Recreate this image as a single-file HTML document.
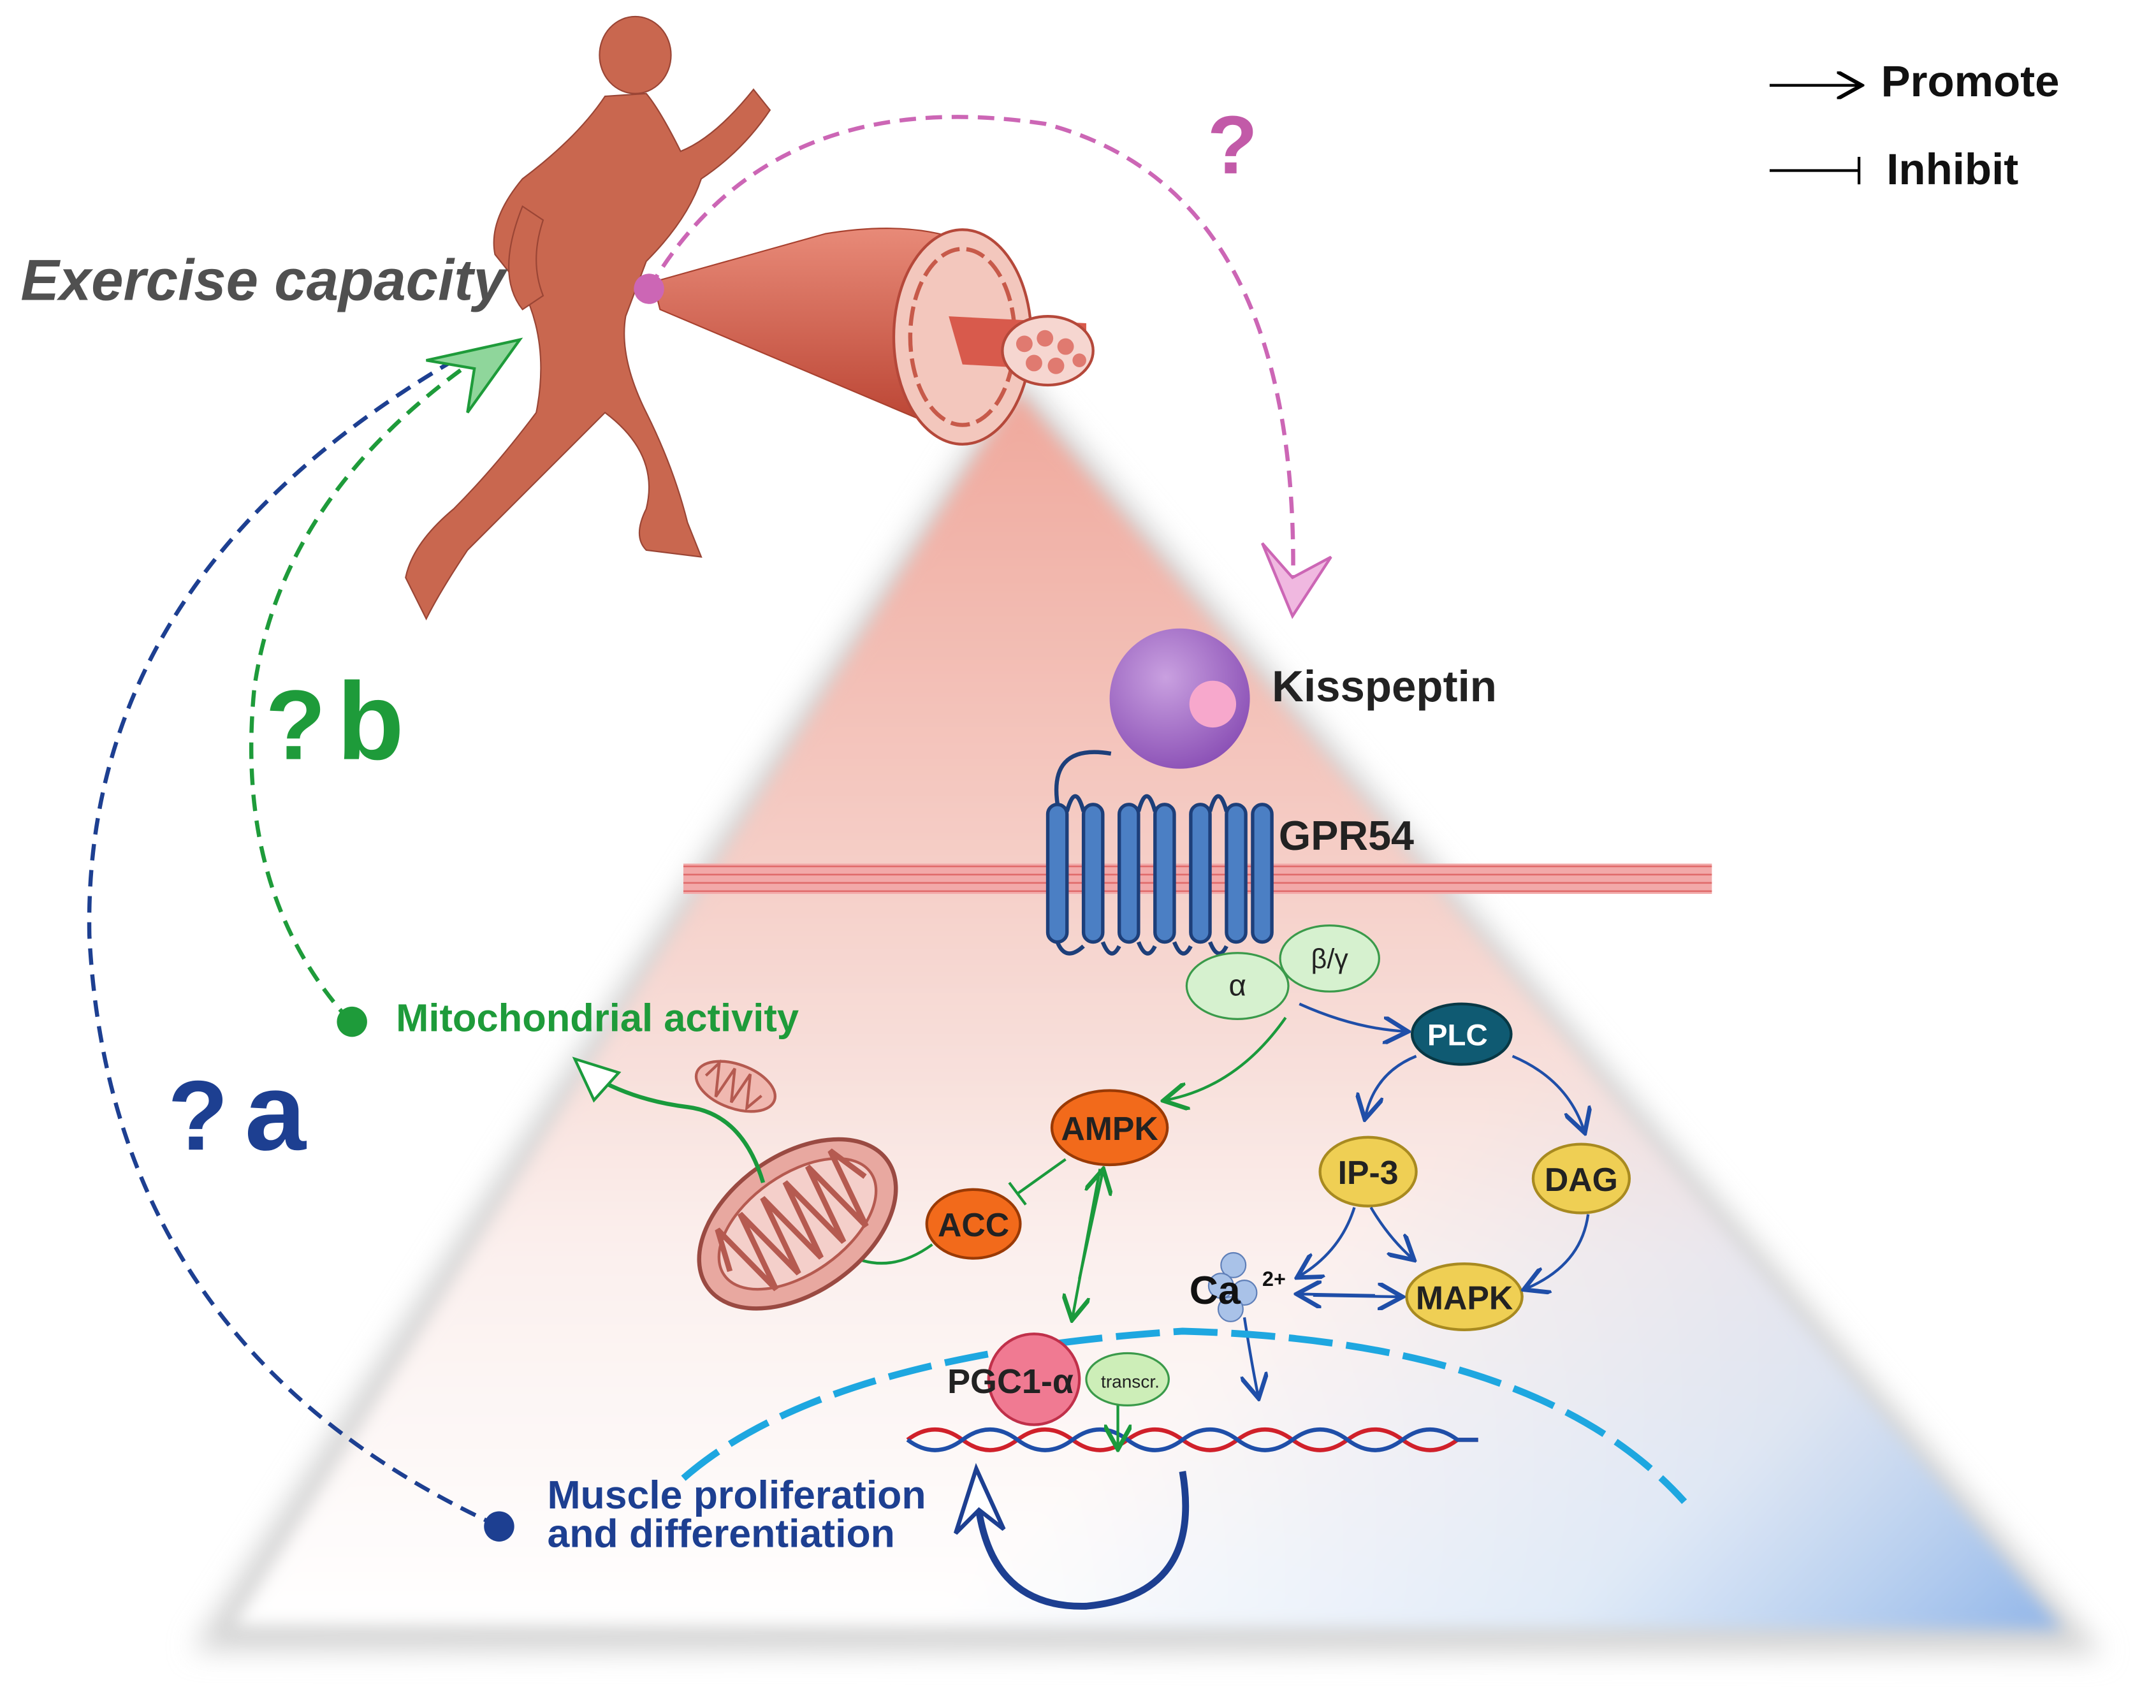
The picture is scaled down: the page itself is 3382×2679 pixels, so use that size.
<!DOCTYPE html>
<html><head><meta charset="utf-8">
<style>
html,body{margin:0;padding:0;background:#fff;}
svg{display:block;}
text{font-family:"Liberation Sans",sans-serif;font-weight:bold;}
</style></head>
<body>
<svg width="3382" height="2679" viewBox="0 0 1568 1242" xmlns="http://www.w3.org/2000/svg">
<defs>
<linearGradient id="tri" x1="0" y1="0" x2="0" y2="1">
<stop offset="0" stop-color="#f0a89c"/>
<stop offset="0.4" stop-color="#f5d0c9"/>
<stop offset="0.7" stop-color="#fbf0ee"/>
<stop offset="1" stop-color="#ffffff"/>
</linearGradient>
<linearGradient id="blu" x1="0.6" y1="0.7" x2="1" y2="1">
<stop offset="0" stop-color="#a8c6ec" stop-opacity="0"/>
<stop offset="0.55" stop-color="#a8c6ec" stop-opacity="0.35"/>
<stop offset="1" stop-color="#8fb4e8" stop-opacity="1"/>
</linearGradient>
<filter id="blur"><feGaussianBlur stdDeviation="10"/></filter>
<filter id="blur2"><feGaussianBlur stdDeviation="6"/></filter>
<radialGradient id="kis" cx="0.4" cy="0.35" r="0.7"><stop offset="0" stop-color="#c9a0e0"/><stop offset="1" stop-color="#8a4fb5"/></radialGradient>
<linearGradient id="mus" x1="0" y1="0" x2="0" y2="1"><stop offset="0" stop-color="#e88a78"/><stop offset="1" stop-color="#b8402f"/></linearGradient>
<marker id="ab" markerWidth="10" markerHeight="10" refX="8" refY="5" orient="auto"><path d="M0,0 L9,5 L0,10" fill="none" stroke="#1f4ea8" stroke-width="1.6"/></marker>
<marker id="ag" markerWidth="10" markerHeight="10" refX="8" refY="5" orient="auto"><path d="M0,0 L9,5 L0,10" fill="none" stroke="#1a9a3c" stroke-width="1.6"/></marker>
<marker id="ak" markerWidth="10" markerHeight="10" refX="8" refY="5" orient="auto"><path d="M0,0 L9,5 L0,10" fill="none" stroke="#000" stroke-width="1.4"/></marker>
</defs>

<!-- triangle -->
<polygon points="740,268 140,1200 1530,1203" fill="#d4d4d4" filter="url(#blur)"/>
<g filter="url(#blur2)">
<polygon points="740,285 170,1182 1500,1185" fill="url(#tri)"/>
<polygon points="740,285 170,1182 1500,1185" fill="url(#blu)"/>
</g>

<!-- legend -->
<line x1="1287" y1="62" x2="1352" y2="62" stroke="#000" stroke-width="2" marker-end="url(#ak)"/>
<text x="1368" y="70" font-size="32" fill="#111">Promote</text>
<line x1="1287" y1="124" x2="1352" y2="124" stroke="#000" stroke-width="2"/>
<line x1="1352" y1="114" x2="1352" y2="134" stroke="#000" stroke-width="2"/>
<text x="1372" y="134" font-size="32" fill="#111">Inhibit</text>

<!-- runner (simplified) -->
<g fill="#c9674f" stroke="#9a4535" stroke-width="1">
<ellipse cx="462" cy="40" rx="26" ry="28"/>
<path d="M440,70 Q420,100 380,130 Q355,160 360,185 L380,210 Q400,250 390,300 Q360,340 330,370 Q300,395 295,420 L310,450 Q320,430 340,400 Q380,360 410,330 L440,300 Q480,330 470,370 Q460,390 470,400 L510,405 L500,380 Q490,340 470,300 Q450,260 455,230 L470,190 Q500,160 510,130 Q540,110 560,80 L548,65 Q520,100 495,110 Q480,80 470,68 Z"/>
<path d="M380,150 Q360,200 380,225 L395,215 Q385,190 395,160 Z"/>
</g>
<!-- muscle bundle -->
<path d="M475,205 L600,170 Q660,160 700,175 L745,260 Q720,320 700,318 L480,225 Z" fill="url(#mus)" stroke="#a8412f"/>
<ellipse cx="700" cy="245" rx="50" ry="78" fill="#f3c7bd" stroke="#b5483a" stroke-width="2"/>
<ellipse cx="700" cy="245" rx="38" ry="64" fill="none" stroke="#c75a4a" stroke-width="3" stroke-dasharray="14 5"/>
<path d="M690,230 L790,235 L790,270 L700,265 Z" fill="#d85a4c"/>
<ellipse cx="762" cy="255" rx="33" ry="25" fill="#f6d6d0" stroke="#b5483a" stroke-width="2"/>
<g fill="#e07a70"><circle cx="745" cy="250" r="6"/><circle cx="760" cy="246" r="6"/><circle cx="775" cy="252" r="6"/><circle cx="752" cy="264" r="6"/><circle cx="768" cy="266" r="6"/><circle cx="785" cy="262" r="5"/></g>

<text x="15" y="218" font-size="42" font-style="italic" fill="#505050">Exercise capacity</text>

<!-- pink dashed -->
<path d="M472,210 Q560,60 760,90 Q950,140 940,440" fill="none" stroke="#cc66b5" stroke-width="3" stroke-dasharray="12 7"/>
<path d="M918,395 L940,448 L968,405 L940,420 Z" fill="#f0b8e0" stroke="#cc66b5" stroke-width="2"/>
<circle cx="472" cy="210" r="11" fill="#cc66b5"/>
<text x="878" y="126" font-size="60" fill="#c25aa8">?</text>

<!-- blue dashed -->
<path d="M363,1110 Q80,980 65,680 Q60,420 330,262" fill="none" stroke="#1d3f91" stroke-width="3" stroke-dasharray="12 7"/>
<circle cx="363" cy="1110" r="11" fill="#1d3f91"/>
<text x="122" y="836" font-size="72" fill="#1d3f91">?</text>
<text x="178" y="836" font-size="80" fill="#1d3f91">a</text>

<!-- green dashed -->
<path d="M255,743 Q170,650 185,500 Q205,360 345,262" fill="none" stroke="#1e9b3a" stroke-width="3" stroke-dasharray="12 7"/>
<path d="M310,262 L378,247 L340,300 L345,268 Z" fill="#8fd69b" stroke="#1e9b3a" stroke-width="2"/>
<circle cx="256" cy="743" r="11" fill="#1e9b3a"/>
<text x="193" y="552" font-size="72" fill="#1e9b3a">?</text>
<text x="245" y="552" font-size="80" fill="#1e9b3a">b</text>

<!-- membrane -->
<rect x="497" y="628" width="748" height="22" fill="#f2a9a9"/>
<g stroke="#e06b6b" stroke-width="1.2"><line x1="497" y1="630" x2="1245" y2="630"/><line x1="497" y1="636" x2="1245" y2="636"/><line x1="497" y1="642" x2="1245" y2="642"/><line x1="497" y1="648" x2="1245" y2="648"/></g>

<!-- kisspeptin -->
<circle cx="858" cy="508" r="51" fill="url(#kis)"/>
<circle cx="882" cy="512" r="17" fill="#f7a8cc"/>
<text x="925" y="510" font-size="32" fill="#222">Kisspeptin</text>

<!-- GPR54 -->
<path d="M808,548 Q760,540 770,590" fill="none" stroke="#1d3f7a" stroke-width="3"/>
<g fill="#4b7fc4" stroke="#1d3f7a" stroke-width="2.5">
<rect x="762" y="585" width="14" height="100" rx="7"/>
<rect x="788" y="585" width="14" height="100" rx="7"/>
<rect x="814" y="585" width="14" height="100" rx="7"/>
<rect x="840" y="585" width="14" height="100" rx="7"/>
<rect x="866" y="585" width="14" height="100" rx="7"/>
<rect x="892" y="585" width="14" height="100" rx="7"/>
<rect x="911" y="585" width="14" height="100" rx="7"/>
</g>
<g fill="none" stroke="#1d3f7a" stroke-width="3">
<path d="M776,590 Q782,568 788,590"/><path d="M828,590 Q834,568 840,590"/><path d="M880,590 Q886,568 892,590"/>
<path d="M769,685 Q775,700 788,688"/><path d="M802,685 Q808,700 814,688"/><path d="M828,685 Q834,700 840,688"/><path d="M854,685 Q860,700 866,688"/><path d="M880,685 Q886,700 892,688"/>
</g>
<text x="930" y="618" font-size="30" fill="#222">GPR54</text>

<ellipse cx="967" cy="697" rx="36" ry="24" fill="#d6f1cf" stroke="#3a9a4a" stroke-width="1.5"/>
<text x="967" y="704" font-size="20" fill="#222" text-anchor="middle" style="font-weight:normal">β/γ</text>
<ellipse cx="900" cy="717" rx="37" ry="24" fill="#d6f1cf" stroke="#3a9a4a" stroke-width="1.5"/>
<text x="900" y="724" font-size="22" text-anchor="middle" fill="#222" style="font-weight:normal">α</text>

<!-- PLC -->
<ellipse cx="1063" cy="752" rx="36" ry="22" fill="#0f5a72" stroke="#083845" stroke-width="2"/>
<text x="1060" y="760" font-size="22" fill="#fff" text-anchor="middle">PLC</text>
<path d="M945,730 Q985,748 1022,750" fill="none" stroke="#1f4ea8" stroke-width="2" marker-end="url(#ab)"/>
<path d="M1030,768 Q1000,780 993,812" fill="none" stroke="#1f4ea8" stroke-width="2" marker-end="url(#ab)"/>
<path d="M1100,768 Q1140,785 1152,822" fill="none" stroke="#1f4ea8" stroke-width="2" marker-end="url(#ab)"/>

<g fill="#efcf54" stroke="#a88a20" stroke-width="2">
<ellipse cx="995" cy="852" rx="35" ry="25"/>
<ellipse cx="1150" cy="857" rx="35" ry="25"/>
<ellipse cx="1065" cy="943" rx="42" ry="24"/>
</g>
<text x="995" y="861" font-size="24" text-anchor="middle" fill="#222">IP-3</text>
<text x="1150" y="866" font-size="24" text-anchor="middle" fill="#222">DAG</text>
<text x="1065" y="952" font-size="24" text-anchor="middle" fill="#222">MAPK</text>
<path d="M1155,883 Q1150,920 1110,937" fill="none" stroke="#1f4ea8" stroke-width="2" marker-end="url(#ab)"/>
<path d="M997,878 Q1010,900 1027,915" fill="none" stroke="#1f4ea8" stroke-width="2" marker-end="url(#ab)"/>
<path d="M985,878 Q975,910 945,928" fill="none" stroke="#1f4ea8" stroke-width="2" marker-end="url(#ab)"/>
<line x1="955" y1="942" x2="1018" y2="943" stroke="#1f4ea8" stroke-width="2" marker-end="url(#ab)"/>
<line x1="1000" y1="942" x2="945" y2="941" stroke="#1f4ea8" stroke-width="2" marker-end="url(#ab)"/>
<path d="M905,958 Q910,990 915,1015" fill="none" stroke="#1f4ea8" stroke-width="2" marker-end="url(#ab)"/>

<!-- Ca -->
<g fill="#a9c2e8" stroke="#5f7fb8"><circle cx="897" cy="920" r="9"/><circle cx="888" cy="935" r="9"/><circle cx="905" cy="940" r="9"/><circle cx="895" cy="952" r="9"/></g>
<text x="865" y="948" font-size="29" fill="#111">Ca</text>
<text x="918" y="935" font-size="15" fill="#111">2+</text>

<!-- AMPK / ACC -->
<ellipse cx="807" cy="820" rx="42" ry="27" fill="#f26a1b" stroke="#9a3a05" stroke-width="2"/>
<text x="807" y="829" font-size="24" text-anchor="middle" fill="#222">AMPK</text>
<ellipse cx="708" cy="890" rx="34" ry="25" fill="#f26a1b" stroke="#9a3a05" stroke-width="2"/>
<text x="708" y="899" font-size="24" text-anchor="middle" fill="#222">ACC</text>
<path d="M935,740 Q900,790 848,800" fill="none" stroke="#1a9a3c" stroke-width="2" marker-end="url(#ag)"/>
<line x1="775" y1="843" x2="740" y2="868" stroke="#1a9a3c" stroke-width="2"/>
<line x1="734" y1="860" x2="746" y2="876" stroke="#1a9a3c" stroke-width="2"/>
<line x1="800" y1="850" x2="780" y2="958" stroke="#1a9a3c" stroke-width="2" marker-end="url(#ag)"/>
<line x1="785" y1="930" x2="802" y2="852" stroke="#1a9a3c" stroke-width="2" marker-end="url(#ag)"/>
<path d="M678,905 Q630,940 585,885" fill="none" stroke="#1a9a3c" stroke-width="2" marker-end="url(#ag)"/>

<!-- mitochondria -->
<g transform="rotate(-35 580 890)">
<ellipse cx="580" cy="890" rx="80" ry="50" fill="#e8a8a0" stroke="#9a4a42" stroke-width="3"/>
<ellipse cx="580" cy="890" rx="65" ry="36" fill="#f4cfca" stroke="#b55a50" stroke-width="2"/>
<path d="M520,890 L530,860 L540,920 L550,860 L560,920 L570,860 L580,920 L590,860 L600,920 L610,860 L620,920 L630,860 L640,890" fill="none" stroke="#b55a50" stroke-width="4"/>
</g>
<g transform="rotate(20 535 790)">
<ellipse cx="535" cy="790" rx="30" ry="16" fill="#f0b8b0" stroke="#b55a50" stroke-width="2"/>
<path d="M512,790 L518,778 L524,802 L530,778 L536,802 L542,778 L548,802 L555,790" fill="none" stroke="#b55a50" stroke-width="2"/>
</g>
<path d="M555,860 Q540,810 500,805 Q460,800 430,782" fill="none" stroke="#1a9a3c" stroke-width="3"/>
<path d="M418,770 L450,780 L432,800 Z" fill="#fff" stroke="#1a9a3c" stroke-width="2"/>
<text x="288" y="750" font-size="28.5" fill="#1e9b3a">Mitochondrial activity</text>

<!-- nucleus -->
<path d="M497,1075 Q600,985 860,968 Q1120,975 1225,1092" fill="none" stroke="#1ea7e0" stroke-width="5" stroke-dasharray="32 10"/>

<!-- DNA -->
<path d="M660,1045 Q680,1030 700,1045 T740,1045 T780,1045 T820,1045 T860,1045 T900,1045 T940,1045 T980,1045 T1020,1045 T1060,1045 L1075,1045" fill="none" stroke="#d0202a" stroke-width="3" transform="translate(0,2)"/>
<path d="M660,1045 Q680,1060 700,1045 T740,1045 T780,1045 T820,1045 T860,1045 T900,1045 T940,1045 T980,1045 T1020,1045 T1060,1045 L1075,1045" fill="none" stroke="#1f4ea8" stroke-width="3" transform="translate(0,2)"/>

<!-- PGC1 -->
<ellipse cx="820" cy="1003" rx="30" ry="19" fill="#cdeeb8" stroke="#3a9a4a" stroke-width="1.5"/>
<text x="822" y="1009" font-size="13" text-anchor="middle" fill="#222" style="font-weight:normal">transcr.</text>
<circle cx="752" cy="1003" r="33" fill="#f07a92" stroke="#c0304a" stroke-width="2"/>
<text x="689" y="1013" font-size="25" fill="#222">PGC1-α</text>
<line x1="813" y1="1022" x2="813" y2="1052" stroke="#1a9a3c" stroke-width="2" marker-end="url(#ag)"/>

<!-- circular arrow -->
<path d="M860,1070 Q875,1160 790,1168 Q715,1170 710,1080" fill="none" stroke="#1d3f91" stroke-width="5"/>
<path d="M695,1115 L710,1068 L730,1112 L712,1098 Z" fill="#fff" stroke="#1d3f91" stroke-width="3"/>

<text x="398" y="1097" font-size="29" fill="#1d3f91">Muscle proliferation</text>
<text x="398" y="1125" font-size="29" fill="#1d3f91">and differentiation</text>
</svg>
</body></html>
